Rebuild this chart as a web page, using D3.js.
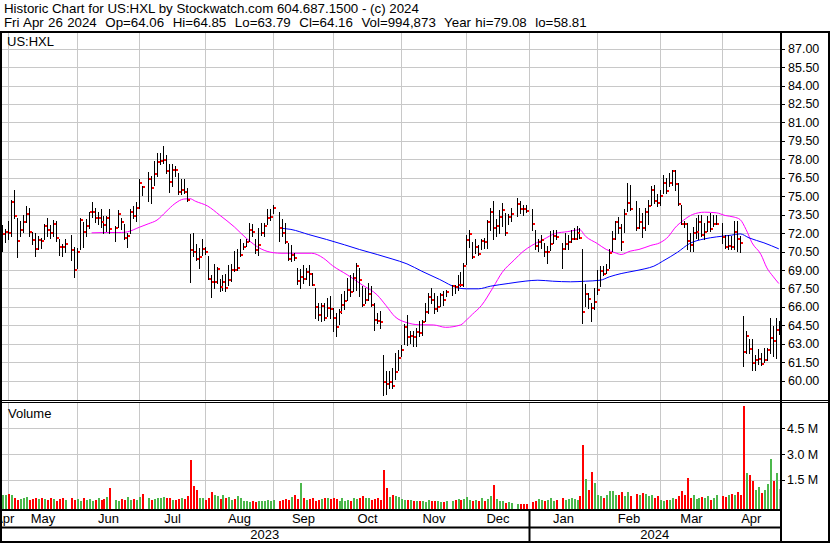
<!DOCTYPE html>
<html><head><meta charset="utf-8">
<script src="https://cdn.jsdelivr.net/npm/d3@7"></script>
<style>html,body{margin:0;padding:0;background:#fff;} svg{display:block;font-family:"Liberation Sans",Arial,sans-serif;}</style>
</head><body>
<svg id="c" width="830" height="543"></svg>
<script>
// ---------- data ----------
const firstDay = new Date(2023, 3, 27);
const lastDay = new Date(2024, 3, 26);
const titleLine1 = "Historic Chart for US:HXL by Stockwatch.com 604.687.1500 - (c) 2024";
const titleLine2 = "Fri Apr 26 2024  Op=64.06  Hi=64.85  Lo=63.79  Cl=64.16  Vol=994,873  Year hi=79.08  lo=58.81";
const symbol = "US:HXL";
const highs = [
72.62,72.35,72.97,74.73,75.54,73.21,73.02,73.51,74.24,74.05,
72.07,72.02,71.8,71.61,72.78,73.24,72.62,73.1,72.97,71.48,
71.15,71.53,null,71.88,70.88,70.8,73.24,72.89,73.16,73.75,
74.51,74.05,73.7,73.92,73.43,73.43,73.97,null,72.56,73.86,
73.21,72.78,72.02,73.92,74.24,74.51,76.36,75.81,null,76.98,
76.63,77.85,78.52,78.52,79.08,78.31,77.58,77.58,77.44,76.9,
76.36,76.41,75.68,71.94,72.02,71.15,70.8,71.48,70.88,70.12,
68.63,69.45,69.26,68.23,68.63,68.69,69.37,69.45,70.53,70.67,
71.48,71.21,71.53,72.83,72.7,71.48,72.43,72.83,72.83,73.92,
73.92,74.32,null,73.7,73.16,72.83,71.21,71.07,70.4,69.17,
69.09,69.37,69.17,69.37,68.77,67.55,66.33,66.33,66.33,66.74,
66.87,65.92,65.52,65.79,67.01,67.28,68.36,68.63,68.77,69.58,
69.17,67.68,67.55,67.96,67.68,66.33,65.52,65.65,62.05,60.77,
60.77,61.0,62.26,62.48,62.94,64.57,65.38,64.03,64.03,64.3,
64.84,64.97,66.33,67.14,67.55,67.14,66.87,67.14,67.28,67.41,
null,67.74,67.74,68.63,68.82,69.58,71.88,72.29,71.26,71.48,
71.07,71.48,71.61,73.1,74.05,74.57,73.16,73.86,74.46,73.65,
73.59,74.05,null,74.87,74.59,74.32,74.32,null,73.97,72.24,
71.53,71.88,71.21,70.94,72.16,72.29,72.29,null,71.21,72.02,
71.88,72.29,72.43,72.56,72.43,70.67,67.9,67.14,66.33,67.55,
68.99,69.31,69.31,69.45,70.67,72.16,72.97,73.32,72.7,73.97,
76.09,75.87,null,74.59,74.05,73.65,74.05,74.73,75.81,75.95,
75.14,75.54,76.76,76.49,76.9,77.17,77.17,76.09,74.32,72.97,
72.83,72.02,72.51,73.24,73.51,73.51,72.83,73.38,73.65,73.51,
73.51,null,72.83,71.88,71.88,71.75,72.97,72.97,71.75,65.25,
64.03,63.35,63.35,62.05,62.54,62.26,62.67,62.67,65.11,64.43,
65.11,64.85];
const lows = [
70.53,71.26,71.48,71.75,73.21,70.04,71.75,72.07,72.89,71.75,
71.13,70.12,70.72,70.8,71.48,71.75,71.61,71.75,71.34,70.26,
70.12,70.45,null,69.8,68.44,69.2,70.67,70.88,71.75,72.43,
73.32,72.89,72.7,72.51,72.02,72.2,71.97,null,71.34,72.51,
72.35,71.53,70.86,72.02,73.24,72.97,74.05,75.06,null,74.59,
74.46,75.95,76.63,77.58,77.71,76.9,75.33,75.81,76.63,75.14,
75.14,75.27,74.59,68.01,70.12,69.8,69.17,70.26,70.34,68.23,
66.82,67.55,67.96,67.28,67.41,67.28,67.82,68.09,68.9,69.04,
70.12,70.67,70.94,71.34,71.75,70.4,70.26,71.88,71.75,72.7,
73.1,73.65,null,71.34,71.75,71.21,69.8,69.72,69.85,67.9,
67.55,67.96,68.23,67.74,67.74,65.11,64.97,64.84,64.97,65.25,
65.11,64.03,63.62,64.57,65.52,65.79,66.6,66.87,67.28,67.41,
66.87,66.06,66.33,66.6,66.06,64.16,64.7,64.3,58.81,58.9,
59.42,59.42,60.1,60.91,61.99,63.02,62.94,63.08,62.81,62.81,
63.62,63.75,64.84,65.52,66.33,65.52,65.65,66.06,66.19,66.87,
null,66.93,67.09,67.41,67.68,67.68,69.45,70.88,69.99,70.4,
70.18,70.67,70.75,70.8,72.29,71.53,71.8,71.97,72.56,71.88,
72.78,72.97,null,73.38,73.65,73.51,73.7,null,72.29,70.67,
70.53,70.8,70.12,69.53,70.61,71.21,71.48,null,69.17,70.67,
70.67,71.26,71.48,71.53,71.61,64.7,66.06,65.92,64.84,65.79,
67.01,67.68,68.63,68.77,69.17,70.53,71.48,72.02,70.61,72.07,
73.78,73.9,null,72.29,72.43,71.69,72.29,72.7,74.32,74.46,
74.19,74.32,75.27,75.27,75.81,75.95,75.54,74.32,72.7,72.51,
70.67,70.53,70.53,71.61,71.48,71.75,71.48,72.16,72.16,72.56,
72.7,null,71.21,70.8,70.67,70.67,70.67,70.53,70.45,61.18,
62.26,62.26,60.91,60.91,61.32,61.24,61.51,61.72,62.26,61.99,
61.86,63.79];
const closes = [
71.91,72.07,71.97,74.52,73.43,71.32,72.24,72.94,73.54,72.13,
71.42,70.67,71.42,71.32,72.56,72.29,71.97,72.72,71.59,70.86,
70.83,71.15,null,70.61,68.99,70.5,73.1,72.13,72.56,73.7,
73.75,73.21,73.21,72.94,72.62,73.21,72.35,null,72.45,73.59,
72.89,71.64,71.8,73.75,73.38,74.03,76.06,75.73,null,76.36,
75.65,76.79,77.82,77.9,77.98,77.01,76.14,77.17,77.09,75.33,
75.54,75.33,74.68,70.61,70.45,69.91,70.07,70.67,70.5,68.28,
68.01,68.01,69.07,67.63,68.06,67.52,68.17,69.04,68.96,69.15,
70.18,70.86,71.26,72.24,72.07,70.61,71.0,71.97,72.56,73.21,
73.29,74.03,null,72.4,71.97,71.26,69.91,70.18,69.96,68.09,
68.44,68.23,68.82,68.66,67.77,65.98,65.38,66.11,65.11,65.9,
65.79,65.11,64.35,65.57,66.17,66.46,67.41,67.2,68.36,69.31,
68.2,66.14,66.6,67.06,66.14,64.97,64.84,64.81,59.88,59.77,
59.88,59.55,60.69,61.88,62.48,64.35,63.54,63.67,63.54,63.94,
63.84,64.81,65.57,66.82,66.55,65.79,66.0,66.95,66.6,67.2,
null,67.68,67.63,67.79,67.74,69.31,71.42,71.91,70.04,70.86,
70.29,71.34,71.26,72.89,73.7,72.4,72.56,73.27,73.86,71.97,
73.32,73.59,null,74.35,74.0,73.92,73.78,null,72.72,70.94,
71.26,71.42,70.5,70.5,71.1,71.8,71.72,null,70.67,71.15,
71.26,71.48,71.53,71.97,71.64,65.57,67.01,66.68,65.95,66.38,
67.41,68.88,68.71,69.04,70.4,71.48,72.89,72.45,71.26,73.59,
74.46,73.95,null,72.4,72.89,72.45,73.7,74.24,75.54,74.65,
74.46,75.0,76.06,75.41,76.06,77.01,76.0,74.35,72.75,72.72,
71.32,71.0,71.97,72.1,72.89,71.88,72.05,72.89,72.37,72.78,
72.78,null,71.69,70.91,70.94,70.83,72.05,71.48,71.18,62.32,
63.62,62.54,61.4,61.72,61.8,61.32,61.67,62.48,63.51,63.19,
64.16,64.16];
// volume in millions of shares
const volumes = [
0.6,0.6,0.7,0.65,0.45,0.35,0.4,0.45,0.5,0.35,
0.4,0.45,0.4,0.45,0.4,0.35,0.45,0.4,0.3,0.4,
0.45,0.35,null,0.45,0.35,0.4,0.3,0.45,0.35,0.4,
0.3,0.35,0.45,0.35,0.4,0.5,1.05,null,0.35,0.3,
0.4,0.35,0.5,0.35,0.4,0.35,0.5,0.7,null,0.45,
0.35,0.4,0.45,0.45,0.5,0.45,0.45,0.35,0.35,0.4,
0.45,0.4,0.55,2.66,1.17,0.92,0.45,0.45,0.35,0.45,
0.8,0.65,0.55,0.4,0.6,0.45,0.5,0.35,0.4,0.55,
0.45,0.25,0.25,0.2,0.25,0.2,0.25,0.25,0.3,0.35,
0.3,0.35,null,0.3,0.35,0.4,0.35,0.5,0.65,0.4,
1.34,0.45,0.35,0.4,0.45,0.3,0.35,0.4,0.45,0.45,
0.4,0.45,0.4,0.3,0.45,0.3,0.35,0.3,0.45,0.4,
0.45,0.55,0.45,0.45,0.35,0.4,0.45,0.35,2.08,1.05,
0.5,0.65,0.55,0.5,0.4,0.35,0.35,0.35,0.3,0.25,
0.25,0.3,0.2,0.35,0.3,0.3,0.3,0.2,0.2,0.3,
null,0.3,0.35,0.4,0.35,0.4,0.5,0.35,0.3,0.35,
0.3,0.45,0.3,0.4,0.55,1.21,0.4,0.3,0.25,0.15,
0.2,0.15,null,0.12,0.12,0.12,0.12,null,0.2,0.3,
0.4,0.35,0.3,0.35,0.45,0.3,0.35,null,0.45,0.35,
0.4,0.45,0.4,0.35,0.55,3.53,1.56,0.9,1.95,1.34,
0.6,0.55,0.45,0.6,0.85,0.85,0.6,0.65,0.8,0.55,
0.8,0.55,null,0.7,0.6,0.75,0.7,0.55,0.6,0.45,
0.55,0.35,0.3,0.35,0.35,0.45,0.4,0.55,0.85,0.65,
1.63,0.45,0.65,0.4,0.45,0.5,0.45,0.55,0.35,0.45,
0.6,null,0.55,0.5,0.6,0.7,0.6,0.8,0.6,5.8,
1.89,1.79,1.44,0.9,1.11,0.75,0.92,1.25,2.72,1.44,
1.89,0.995];
// moving averages: [day slot, value]
const maShort = [[30,72.02],[35,72.05],[40,72.05],[42,72.1],[46,72.47],[49,72.75],[52,73.06],[55,73.74],[58,74.4],[61,74.77],[63,74.8],[65,74.58],[69,74.2],[73,73.47],[78,72.5],[82,71.58],[87,70.71],[91,70.41],[94,70.36],[98,70.36],[104,70.36],[108,69.95],[111,69.35],[116,68.6],[121,67.78],[126,66.97],[129,66.1],[132,65.2],[136,64.72],[140,64.55],[145,64.53],[149,64.34],[154,64.53],[156,64.93],[158,65.4],[161,66.1],[165,67.6],[168,68.8],[172,69.8],[175,70.5],[178,71.0],[182,71.5],[186,71.98],[190,72.12],[193,72.25],[194,72.29],[196,71.75],[200,71.15],[203,70.67],[206,70.4],[208,70.26],[211,70.53],[214,70.67],[218,71.0],[221,71.21],[224,71.75],[226,72.4],[229,73.05],[232,73.51],[236,73.7],[240,73.65],[243,73.43],[246,73.3],[248,73.1],[250,72.29],[252,71.21],[255,70.26],[257,69.17],[259,68.5],[261,67.9]];
const maLong = [[93,72.4],[97,72.3],[103,71.88],[109,71.48],[115,71.05],[120,70.67],[126,70.26],[131,69.9],[136,69.5],[141,68.9],[147,68.23],[153,67.55],[156,67.47],[160,67.47],[164,67.68],[170,67.9],[176,68.1],[180,68.17],[185,68.09],[191,68.04],[196,68.09],[201,68.17],[204,68.44],[208,68.71],[212,68.9],[216,69.1],[219,69.31],[222,69.72],[227,70.45],[231,71.15],[236,71.53],[240,71.69],[245,71.83],[248,71.94],[251,71.61],[256,71.21],[261,70.72]];
const priceTicks = [60,61.5,63,64.5,66,67.5,69,70.5,72,73.5,75,76.5,78,79.5,81,82.5,84,85.5,87];
const volTicks = [1.5,3.0,4.5];
const monthNames = ["Jan","Feb","Mar","Apr","May","Jun","Jul","Aug","Sep","Oct","Nov","Dec"];

// ---------- layout ----------
const svg = d3.select("#c");
const L = 1, R = 780;
const mainTop = 32, mainBot = 400;
const volTop = 402, volBot = 509;
const axBot = 542;

const slots = d3.timeDay.range(firstDay, d3.timeDay.offset(lastDay, 1)).filter(d => d.getDay() % 6 !== 0);
const x = d3.scaleLinear().domain([0, slots.length - 1]).range([2.35, 778.8]);
const y = d3.scaleLinear().domain([60, 87]).range([380.7, 48.6]);
const yv = d3.scaleLinear().domain([0, 4.5]).range([505.8, 428.3]);

const grid = "#c8c8c8";
const defs = svg.append("defs");
defs.append("clipPath").attr("id","cm").append("rect").attr("x",L).attr("y",mainTop).attr("width",R-L).attr("height",mainBot-mainTop);
defs.append("clipPath").attr("id","cv").append("rect").attr("x",L).attr("y",volTop).attr("width",R-L).attr("height",volBot-volTop);
defs.append("clipPath").attr("id","cx").append("rect").attr("x",2).attr("y",volBot).attr("width",R-2).attr("height",axBot-volBot);

svg.append("rect").attr("width",830).attr("height",543).attr("fill","#fff");

// titles
svg.append("text").attr("x",4).attr("y",13).attr("font-size",13.3).text(titleLine1);
svg.append("text").attr("x",4).attr("y",27).attr("font-size",13.3).attr("word-spacing",0.6).attr("xml:space","preserve").style("white-space","pre").text(titleLine2);

// month gridlines
const monthStarts = d3.timeMonth.range(d3.timeMonth.ceil(firstDay), d3.timeDay.offset(lastDay,1));
const monthIdx = monthStarts.map(m => d3.bisectRight(slots, m) - 1);
const monthX = monthIdx.map(i => Math.round(x(i)) + 0.5);

const gMain = svg.append("g").attr("clip-path","url(#cm)");
const gVol = svg.append("g").attr("clip-path","url(#cv)");
[gMain, gVol].forEach((g, k) => {
  const top = k ? volTop : mainTop, bot = k ? volBot : mainBot;
  g.selectAll("line.v").data(monthX).join("line").attr("x1",d=>d).attr("x2",d=>d).attr("y1",top).attr("y2",bot).attr("stroke",grid);
});
gMain.selectAll("line.h").data(priceTicks).join("line")
  .attr("x1",L).attr("x2",R).attr("y1",d=>Math.round(y(d))+0.5).attr("y2",d=>Math.round(y(d))+0.5).attr("stroke",grid);
gVol.selectAll("line.h").data(volTicks).join("line")
  .attr("x1",L).attr("x2",R).attr("y1",d=>Math.round(yv(d))+0.5).attr("y2",d=>Math.round(yv(d))+0.5).attr("stroke",grid);

// moving averages
const maLine = d3.line().x(d => x(d[0])).y(d => y(d[1])).curve(d3.curveMonotoneX);
gMain.append("path").attr("d", maLine(maShort)).attr("fill","none").attr("stroke","#ff00ff").attr("stroke-width",1);
gMain.append("path").attr("d", maLine(maLong)).attr("fill","none").attr("stroke","#0000ff").attr("stroke-width",1);

// price bars
const idx = d3.range(slots.length).filter(i => highs[i] != null);
gMain.selectAll("line.bar").data(idx).join("line")
  .attr("x1",i=>Math.round(x(i))+0.5).attr("x2",i=>Math.round(x(i))+0.5)
  .attr("y1",i=>Math.round(y(highs[i]))).attr("y2",i=>Math.round(y(lows[i]))+1)
  .attr("stroke","#000").attr("stroke-width",1);
gMain.selectAll("rect.cl").data(idx).join("rect")
  .attr("x",i=>Math.round(x(i))+1).attr("y",i=>Math.round(y(closes[i]))-1)
  .attr("width",2).attr("height",2).attr("fill","#ff0000");

// volume bars
const vIdx = d3.range(slots.length).filter(i => volumes[i] != null);
const prevClose = i => { for (let j=i-1;j>=0;j--) if (closes[j]!=null) return closes[j]; return closes[i]; };
gVol.selectAll("rect.vb").data(vIdx).join("rect")
  .attr("x",i=>Math.round(x(i))).attr("width",2)
  .attr("y",i=>Math.round(yv(volumes[i]))).attr("height",i=>volBot-Math.round(yv(volumes[i])))
  .attr("fill",i=> i===slots.length-1 ? "#a0a0a0" : (closes[i] >= prevClose(i) ? "#4cb84c" : "#ff0000"));

// labels inside panels
svg.append("text").attr("x",7).attr("y",46).attr("font-size",13).text(symbol);
svg.append("text").attr("x",8).attr("y",418).attr("font-size",13).text("Volume");

// price axis labels
svg.selectAll("text.py").data(priceTicks).join("text")
  .attr("x",788).attr("y",d=>y(d)+4.5).attr("font-size",12.5).attr("fill","#000")
  .text(d=>d3.format(".2f")(d));
svg.selectAll("line.pt").data(priceTicks).join("line")
  .attr("x1",782).attr("x2",785).attr("y1",d=>Math.round(y(d))+0.5).attr("y2",d=>Math.round(y(d))+0.5).attr("stroke","#000");
svg.selectAll("text.vy").data(volTicks).join("text")
  .attr("x",787).attr("y",d=>yv(d)+4.5).attr("font-size",12.5)
  .text(d=>d3.format(".1f")(d)+" M");
svg.selectAll("line.vt").data(volTicks).join("line")
  .attr("x1",782).attr("x2",785).attr("y1",d=>Math.round(yv(d))+0.5).attr("y2",d=>Math.round(yv(d))+0.5).attr("stroke","#000");

// month labels (first month is only partly visible, clipped at the left edge as in the original)
const gx = svg.append("g").attr("clip-path","url(#cx)");
const edges = [0, ...monthX, R];
const labelMonths = [d3.timeMonth.floor(firstDay), ...monthStarts];
gx.selectAll("text.m").data(labelMonths).join("text")
  .attr("x",(d,i)=>(edges[i]+edges[i+1])/2).attr("y",523).attr("text-anchor","middle").attr("font-size",13)
  .text(d=>monthNames[d.getMonth()]);
// years
const janI = monthStarts.findIndex(d => d.getMonth() === 0);
const janX = monthX[janI];
const years = [firstDay.getFullYear(), lastDay.getFullYear()];
svg.selectAll("text.yr").data(years).join("text")
  .attr("x",(d,i)=> i ? (janX+R)/2 : (0+janX)/2).attr("y",539).attr("text-anchor","middle").attr("font-size",13)
  .text(d=>d);

// frame lines
const blk = (x1,y1,x2,y2,w) => svg.append("line").attr("x1",x1).attr("y1",y1).attr("x2",x2).attr("y2",y2).attr("stroke","#000").attr("stroke-width",w);
blk(1,31,1,543,2);
blk(829,31,829,543,2);
blk(0,32,830,32,2);
blk(781,31,781,543,2);
blk(0,400.5,830,400.5,1);
blk(0,402.5,830,402.5,1);
blk(0,510,781,510,2);
blk(0,527.5,781,527.5,2);
blk(0,542,830,542,2);
blk(janX,510,janX,542,2);
</script>
</body></html>
